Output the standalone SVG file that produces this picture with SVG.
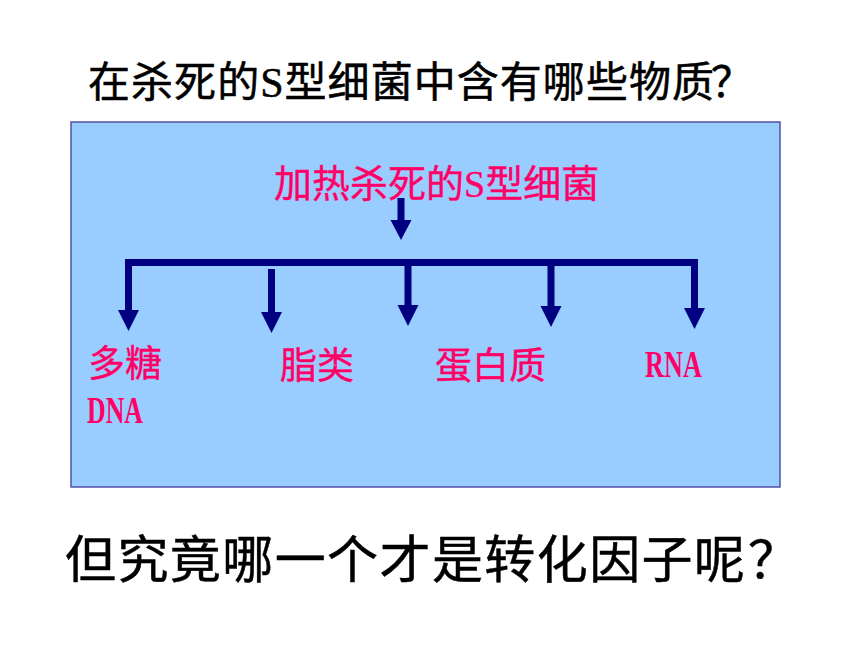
<svg xmlns="http://www.w3.org/2000/svg" width="860" height="645" viewBox="0 0 860 645">
  <style>
    .blk { font-family: "Liberation Serif", "Noto Sans CJK SC", serif; fill: #000000; stroke: #000000; stroke-width: 0.5; }
    .pink { font-family: "Liberation Serif", "Noto Sans CJK SC", serif; fill: #FF0066; stroke: #FF0066; stroke-width: 0.4; }
    .lat { font-family: "Liberation Serif", serif; font-weight: bold; fill: #FF0066; }
    .arrow { fill: #000080; stroke: none; }
  </style>
  <rect width="860" height="645" fill="#ffffff"/>
  <g id="question-top">
    <text class="blk" font-size="42"><tspan x="88" y="97" textLength="626" lengthAdjust="spacing">在杀死的S型细菌中含有哪些物质</tspan><tspan x="711" y="97">？</tspan></text>
  </g>
  <g id="panel">
    <rect x="71" y="122" width="709" height="365" fill="#99CCFF" stroke="#5050A8" stroke-width="1.5"/>
  </g>
  <g id="source">
    <text class="pink" x="274" y="197" font-size="38">加热杀死的S型细菌</text>
  </g>
  <g id="connectors">
    <polygon class="arrow" points="397.5,198 404.5,198 404.5,220 411.5,220 401,240 390.5,220 397.5,220"/>
    <rect class="arrow" x="125" y="259" width="573" height="7"/>
    <polygon class="arrow" points="125,266 132,266 132,310 139,310 128.5,331 118,310 125,310"/>
    <polygon class="arrow" points="268,269 275,269 275,312 282,312 271.5,333 261,312 268,312"/>
    <polygon class="arrow" points="404.5,266 411.5,266 411.5,305 418.5,305 408,326 397.5,305 404.5,305"/>
    <polygon class="arrow" points="547.5,266 554.5,266 554.5,306 561.5,306 551,327 540.5,306 547.5,306"/>
    <polygon class="arrow" points="691,266 698,266 698,308 705,308 694.5,329 684,308 691,308"/>
  </g>
  <g id="polysaccharide">
    <text class="pink" x="88" y="377" font-size="37">多糖</text>
  </g>
  <g id="dna">
    <text class="lat" x="87" y="423" font-size="38" textLength="56" lengthAdjust="spacingAndGlyphs">DNA</text>
  </g>
  <g id="lipid">
    <text class="pink" x="280" y="379" font-size="37">脂类</text>
  </g>
  <g id="protein">
    <text class="pink" x="435" y="379" font-size="37">蛋白质</text>
  </g>
  <g id="rna">
    <text class="lat" x="645" y="377" font-size="38" textLength="57" lengthAdjust="spacingAndGlyphs">RNA</text>
  </g>
  <g id="question-bottom">
    <text class="blk" font-size="51"><tspan x="65" y="578" textLength="680" lengthAdjust="spacing">但究竟哪一个才是转化因子呢</tspan><tspan x="748" y="578">？</tspan></text>
  </g>
</svg>
